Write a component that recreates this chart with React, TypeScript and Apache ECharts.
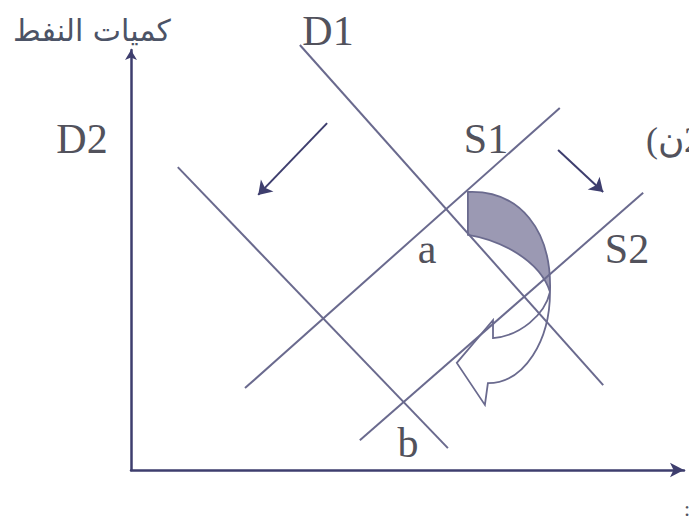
import React, { useEffect, useRef } from "react";
import * as echarts from "echarts";

// Curves (quantity x, price y) in chart units
const D1 = [[3.97, 10.12], [11.1, 2.02]];
const D2 = [[1.1, 7.21], [7.45, 0.52]];
const S1 = [[2.68, 1.95], [10.08, 8.62]];
const S2 = [[5.38, 0.71], [12.04, 6.6]];

// Shift arrows (from -> to)
const SHIFT_ARROWS = [
  [[4.61, 8.26], [2.99, 6.55]],
  [[10.04, 7.62], [11.1, 6.62]],
];

// Curved arrow outline in chart units (path commands)
const BAND_SHADED: (string | number)[][] = [
  ["M", 7.92, 6.62],
  ["C", 9.14, 6.67, 9.9, 5.71, 9.85, 4.24],
  ["C", 9.61, 5.0, 8.67, 5.48, 7.92, 5.6],
  ["Z"],
];
const BAND_ARROW: (string | number)[][] = [
  ["M", 9.85, 4.24],
  ["C", 9.85, 3.1, 9.26, 2.07, 8.39, 2.07],
  ["L", 8.32, 1.55],
  ["L", 7.66, 2.55],
  ["L", 8.51, 3.57],
  ["L", 8.51, 3.14],
  ["C", 9.14, 3.19, 9.73, 3.69, 9.85, 4.24],
  ["Z"],
];

const X_MAX = 13;
const Y_MAX = 10;

const LINE_COLOR = "#6a6a8e";
const AXIS_COLOR = "#3e3e6e";
const TEXT_COLOR = "#52525c";

function buildPath(api: any, cmds: (string | number)[][]) {
  let d = "";
  for (const c of cmds) {
    const op = c[0] as string;
    d += op;
    const nums = c.slice(1) as number[];
    for (let i = 0; i < nums.length; i += 2) {
      const p = api.coord([nums[i], nums[i + 1]]);
      d += " " + p[0].toFixed(1) + " " + p[1].toFixed(1);
    }
    d += " ";
  }
  return d;
}

export default function App() {
  const ref = useRef<HTMLDivElement>(null);
  useEffect(() => {
    const chart = echarts.init(ref.current!, null, { renderer: "svg" });
    const lineSeries = (name: string, data: number[][]) => ({
      name,
      type: "line",
      data,
      showSymbol: false,
      clip: false,
      silent: true,
      lineStyle: { color: LINE_COLOR, width: 2 },
    });
    const serif = "'Liberation Serif', 'DejaVu Serif', serif";
    const label = (text: string, x: number, y: number, size = 42, align = "center") => ({
      type: "text",
      x,
      y,
      style: {
        text,
        fill: TEXT_COLOR,
        font: `${size}px ${serif}`,
        textAlign: align,
        textVerticalAlign: "middle",
      },
    });
    chart.setOption({
      animation: false,
      backgroundColor: "#ffffff",
      grid: { left: 131, top: 50, width: 553, height: 420 },
      xAxis: {
        type: "value",
        min: 0,
        max: X_MAX,
        axisLine: {
          show: true,
          symbol: ["none", "arrow"],
          symbolSize: [11, 14],
          lineStyle: { color: AXIS_COLOR, width: 2.5 },
        },
        axisTick: { show: false },
        axisLabel: { show: false },
        splitLine: { show: false },
      },
      yAxis: {
        type: "value",
        min: 0,
        max: Y_MAX,
        axisLine: {
          show: true,
          symbol: ["none", "arrow"],
          symbolSize: [9, 10],
          lineStyle: { color: AXIS_COLOR, width: 2.5 },
        },
        axisTick: { show: false },
        axisLabel: { show: false },
        splitLine: { show: false },
      },
      series: [
        lineSeries("D1", D1),
        lineSeries("D2", D2),
        lineSeries("S1", S1),
        lineSeries("S2", S2),
        {
          type: "lines",
          coordinateSystem: "cartesian2d",
          silent: true,
          symbol: ["none", "arrow"],
          symbolSize: 13,
          lineStyle: { color: AXIS_COLOR, width: 2, opacity: 1 },
          data: SHIFT_ARROWS.map((c) => ({ coords: c })),
        },
        {
          type: "custom",
          coordinateSystem: "cartesian2d",
          silent: true,
          clip: false,
          data: [[0, 0]],
          renderItem: (_p: any, api: any) => ({
            type: "group",
            children: [
              {
                type: "path",
                shape: { pathData: buildPath(api, BAND_SHADED) },
                style: { fill: "#9b99b3", stroke: LINE_COLOR, lineWidth: 1.8 },
              },
              {
                type: "path",
                shape: { pathData: buildPath(api, BAND_ARROW) },
                style: { fill: "none", stroke: LINE_COLOR, lineWidth: 1.8 },
              },
            ],
          }),
        },
      ],
      graphic: [
        {
          type: "text",
          x: 92,
          y: 30,
          style: {
            text: "كميات النفط",
            fill: "#4c5366",
            font: "30px 'DejaVu Sans', sans-serif",
            textAlign: "center",
            textVerticalAlign: "middle",
          },
        },
        label("D1", 328, 31),
        label("D2", 82, 139),
        label("S1", 486, 139),
        label("S2", 627, 249),
        label("a", 427, 249),
        label("b", 408, 443),
        label("\u202D(ن2\u202C", 646, 140, 36, "left"),
        label(":", 684, 508, 22, "left"),
      ],
    });
    return () => chart.dispose();
  }, []);
  return (
    <div
      ref={ref}
      style={{ position: "absolute", left: 0, top: 0, width: 689, height: 524, background: "#fff" }}
    />
  );
}
